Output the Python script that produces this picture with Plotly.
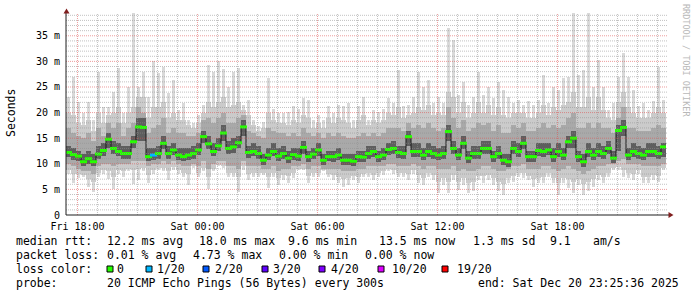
import plotly.graph_objects as go
import pandas as pd

# ---------------- data (ms), one value per 15-minute step ----------------
median = [12.2, 11.8, 11.5, 10.4, 11.0, 10.4, 11.9, 12.6, 14.8, 13.0, 12.4, 12.0, 12.0, 14.3, 17.2, 17.1, 11.4, 11.7, 12.0, 14.0, 12.0, 12.7, 11.7, 11.4,
          11.7, 12.0, 12.7, 15.3, 13.9, 12.4, 13.5, 16.0, 13.0, 13.3, 14.1, 17.2, 12.2, 12.4, 12.0, 10.7, 11.7, 12.4, 11.5, 12.0, 11.1, 11.8, 11.5, 13.2,
          11.4, 11.9, 12.7, 10.7, 11.4, 11.4, 11.7, 10.7, 10.7, 10.5, 11.4, 11.3, 12.0, 12.4, 11.4, 11.7, 12.8, 13.0, 12.2, 12.0, 15.3, 12.4, 12.4, 11.7,
          12.4, 12.0, 11.7, 12.0, 16.3, 13.0, 11.7, 14.0, 11.1, 12.0, 12.0, 13.0, 13.0, 11.4, 12.0, 10.7, 10.4, 13.0, 12.4, 14.0, 11.4, 11.4, 12.6, 12.4,
          12.7, 11.4, 12.4, 11.7, 14.3, 15.0, 11.4, 10.4, 12.4, 11.7, 12.4, 12.0, 13.0, 11.1, 16.5, 17.1, 11.7, 12.4, 12.0, 11.7, 12.4, 12.4, 12.0, 13.3]

# single-ping extremes (thin spikes)
rtt_max = [23, 27, 22, 20, 22, 18.5, 28, 21, 21, 24, 28.7, 20, 25, 45, 25, 28, 23, 30, 27.7, 29, 23.8, 26.4, 20.5, 21.8,
           18.5, 18, 19.5, 21.5, 29.3, 28, 30, 28.6, 25, 28, 28.7, 21.5, 22.5, 18.5, 17.3, 18.2, 26.7, 20.8, 19.9, 19.9, 20.2, 21.2, 20.8, 22.8,
           22.5, 18.5, 19.5, 18.5, 21.2, 20, 21.5, 21.2, 21.8, 18.5, 21.2, 23.1, 18.5, 20.5, 20.2, 20.8, 22.8, 21.8, 28.3, 21.2, 21.5, 23.1, 28, 25,
           26.4, 21.8, 23.1, 21.8, 36.5, 34.2, 23.4, 26, 21.5, 23.1, 28, 23.4, 25, 22.8, 26, 24.4, 23.1, 21.8, 22.5, 21.5, 22.2, 21.5, 22.5, 27.3,
           21.8, 25, 24.4, 26.7, 27, 42, 27.3, 28.3, 45, 25, 30.3, 25, 20.5, 21.8, 27, 31.6, 27, 24.4, 21.2, 21.8, 20.5, 22.2, 29, 22.5]

rtt_min = [8.0, 6.2, 7.2, 7.5, 5.5, 4.5, 7.5, 8.1, 7.0, 5.0, 8.0, 7.5, 8.5, 6.0, 6.8, 8.5, 6.2, 8.0, 8.8, 8.5, 6.8, 8.8, 8.0, 7.5,
           5.9, 9.1, 7.5, 8.5, 5.0, 8.5, 9.5, 9.1, 7.5, 7.5, 4.5, 8.8, 6.8, 7.5, 7.5, 7.8, 5.2, 7.5, 5.9, 6.8, 6.2, 7.2, 8.8, 8.8,
           6.2, 7.5, 7.5, 8.5, 7.5, 6.8, 6.2, 5.5, 5.9, 6.8, 6.2, 7.5, 7.5, 6.8, 7.5, 7.8, 8.5, 8.1, 7.5, 7.5, 6.8, 8.1, 6.2, 5.9,
           7.5, 6.8, 4.2, 5.9, 4.2, 6.8, 4.9, 5.9, 4.2, 4.6, 6.8, 6.2, 6.8, 5.9, 4.6, 4.0, 6.2, 6.5, 7.5, 7.2, 6.8, 5.5, 6.2, 6.2,
           7.5, 6.2, 3.9, 6.2, 5.2, 4.2, 5.9, 3.9, 4.6, 5.5, 6.8, 6.2, 7.5, 8.8, 8.8, 7.5, 7.2, 6.8, 8.1, 6.2, 6.2, 6.8, 6.5, 8.8]

# outer smoke envelope
outer_hi = [20, 19.5, 18, 17.5, 18.5, 16.5, 20, 18, 19.5, 20, 21, 18, 20, 21, 23, 23, 19, 21, 21, 22, 19, 20, 18.5, 18.5,
            17.5, 17, 18, 20, 22, 21, 22, 23, 21, 21.5, 22, 20.5, 19.5, 17.5, 16.5, 17, 20, 18.5, 18, 18, 17.5, 18.5, 18, 19.5,
            19, 17, 18, 17, 19, 18, 19, 18.5, 18, 17, 18.5, 19.5, 17.5, 18.5, 18, 18.5, 20, 19.5, 21, 19, 19.5, 20, 21, 20.5,
            21.5, 19.5, 20, 19.5, 24, 23, 20, 22, 19, 20, 22, 20, 21.5, 19.5, 21, 19.5, 19, 20, 20, 20, 19, 19, 20, 21.5,
            19.5, 21, 20.5, 21.5, 22, 24, 21, 21, 23, 20.5, 23, 20.5, 19, 18.5, 22, 24, 21, 20, 19, 19, 19, 20, 21, 20]

outer_lo = [8.8, 8.0, 8.0, 7.8, 7.0, 6.5, 8.3, 8.8, 8.5, 7.5, 8.8, 8.6, 9.0, 8.8, 9.0, 9.2, 7.8, 8.8, 9.2, 9.2, 8.5, 9.4, 8.8, 8.3,
            8.0, 9.5, 8.3, 9.2, 7.5, 9.0, 9.8, 9.6, 8.3, 8.3, 7.5, 9.5, 8.0, 8.3, 8.3, 8.2, 7.5, 8.3, 7.3, 7.8, 7.6, 8.2, 9.0, 9.0,
            7.6, 8.3, 8.3, 8.7, 8.0, 7.8, 7.5, 7.0, 7.2, 7.6, 7.5, 8.0, 8.3, 7.8, 8.3, 8.5, 9.0, 8.8, 8.3, 8.3, 8.0, 8.8, 7.8, 7.3,
            8.3, 7.8, 6.5, 7.2, 6.5, 7.8, 6.5, 7.3, 6.3, 6.5, 7.6, 7.6, 7.8, 7.2, 6.5, 6.0, 7.3, 7.6, 8.3, 8.3, 7.6, 7.0, 7.3, 7.5,
            8.3, 7.3, 6.2, 7.3, 7.0, 6.5, 7.0, 6.0, 6.5, 7.0, 7.8, 7.5, 8.3, 9.2, 9.4, 8.8, 8.3, 8.0, 8.8, 7.5, 7.5, 7.8, 7.6, 9.2]

mid_hi = [17, 16, 15.5, 15, 16, 14.5, 17, 15.5, 18, 17, 18, 15.5, 17, 18, 21, 20, 16, 17, 17.5, 19, 16, 17, 16, 16,
          15.5, 15.5, 16, 18.5, 19, 18, 19, 20, 18, 18, 19, 19.5, 16.5, 16, 15.5, 15, 17, 16.5, 16, 16, 15.5, 16, 15.5, 17,
          16, 15.5, 16, 15, 16, 15.5, 16, 15.5, 15, 15, 15.5, 16, 15.5, 16, 15.5, 16, 17, 17, 17, 16.5, 18, 17, 17.5, 17,
          18, 17, 16.5, 17, 21, 19, 17, 18.5, 16.5, 17, 18, 17.5, 18, 16.5, 17.5, 16, 16, 17.5, 17, 18, 16.5, 16.5, 17, 18,
          17, 17.5, 17, 17.5, 19, 20, 17, 17, 18, 17, 18, 17, 17, 16, 19, 21, 17, 17, 16.5, 16.5, 16.5, 17, 17.5, 17]

mid_lo = [10, 9.5, 9, 8.5, 8.5, 8, 9.5, 10, 10, 9.5, 10, 10, 10, 10.5, 10.5, 10.5, 9.5, 10, 10, 10.5, 10, 10.5, 10, 9.5,
          9.5, 10, 9.5, 10.5, 9, 10, 10.5, 10.5, 9.5, 9.5, 9, 10.5, 9.5, 9.5, 9.5, 9, 9, 9.5, 8.5, 9, 9, 9.5, 9.5, 10,
          9, 9.5, 9.5, 9, 9, 9, 9, 8.5, 8.5, 8.5, 9, 9, 9.5, 9.5, 9.5, 9.5, 10, 10, 9.5, 9.5, 9.5, 10, 9.5, 9,
          9.5, 9.5, 9, 9, 9, 9.5, 8.5, 9, 8.5, 8.5, 9, 9.5, 9.5, 9, 8.5, 8.5, 9, 9.5, 9.5, 10, 9, 9, 9, 9.5,
          9.5, 9, 8.5, 9, 9.5, 9, 8.5, 8, 8.5, 9, 9.5, 9.5, 10, 10, 10.5, 11, 10, 10, 10, 9.5, 9.5, 9.5, 9.5, 10]

core_hi = [13.5, 13, 12.5, 12, 12.5, 12, 13.5, 14, 16, 14.5, 14, 13.5, 13.5, 15.5, 19, 19, 13, 13, 13.5, 15.5, 13.5, 14, 13, 13,
           13, 13.5, 14, 16.5, 15.5, 14, 15, 17.5, 14.5, 15, 15.5, 18.5, 13.5, 14, 13.5, 12, 13, 14, 13, 13.5, 12.5, 13, 13, 14.5,
           12.5, 13, 14, 12, 12.5, 12.5, 13, 12, 12, 12, 12.5, 12.5, 13.5, 13.5, 12.5, 13, 14, 14.5, 13.5, 13.5, 16.5, 14, 14, 13,
           14, 13.5, 13, 13.5, 17.5, 14.5, 13, 15.5, 12.5, 13.5, 13.5, 14.5, 14.5, 12.5, 13.5, 12, 12, 14.5, 14, 15.5, 12.5, 12.5, 14, 14,
           14, 13, 14, 13, 15.5, 16.5, 12.5, 12, 14, 13, 14, 13.5, 14.5, 12.5, 17.5, 18.5, 13, 14, 13.5, 13, 14, 14, 13.5, 14]

core_lo = [11.3, 10.8, 10.5, 9.5, 10, 9.5, 11, 11.5, 13, 12, 11.5, 11, 11, 13, 14.5, 14.5, 10.5, 10.8, 11, 12.8, 11, 11.8, 10.8, 10.5,
           10.8, 11, 11.7, 14, 12.8, 11.5, 12.5, 14.5, 12, 12.2, 13, 15.5, 11.2, 11.5, 11, 9.8, 10.8, 11.5, 10.5, 11, 10.2, 10.8, 10.5, 12,
           10.4, 10.9, 11.6, 9.8, 10.5, 10.4, 10.7, 9.7, 9.7, 9.5, 10.4, 10.3, 11, 11.4, 10.4, 10.7, 11.8, 12, 11.2, 11, 13.5, 11.4, 11.4, 10.7,
           11.4, 11, 10.7, 11, 14.5, 12, 10.7, 12.8, 10.1, 11, 11, 12, 12, 10.4, 11, 9.7, 9.4, 12, 11.4, 12.8, 10.4, 10.4, 11.6, 11.4,
           11.7, 10.4, 11.4, 10.7, 13, 13, 10.4, 9.4, 11.4, 10.7, 11.4, 11, 12, 10.1, 12.5, 15.5, 10.7, 11.4, 11, 10.7, 11.4, 11.4, 11, 11.4]

# lost pings out of 20 per step
loss = [0, 0, 0, 0, 0, 0, 0, 0, 0, 0, 0, 0, 0, 0, 0, 0, 0, 1, 0, 0, 0, 0, 0, 0,
        0, 0, 0, 0, 0, 0, 0, 0, 0, 0, 0, 0, 0, 0, 0, 0, 0, 0, 0, 0, 0, 0, 0, 0,
        0, 0, 0, 0, 0, 0, 0, 0, 0, 0, 0, 0, 0, 0, 0, 0, 0, 0, 0, 0, 0, 0, 0, 0,
        0, 0, 0, 0, 0, 0, 0, 0, 0, 0, 0, 0, 0, 0, 0, 0, 0, 0, 0, 0, 0, 0, 0, 0,
        0, 0, 0, 0, 0, 0, 0, 0, 0, 0, 0, 0, 0, 0, 0, 0, 0, 0, 0, 0, 0, 0, 0, 0]

y_tick_vals = [0, 5, 10, 15, 20, 25, 30, 35]
y_tick_text = ["0", "5 m", "10 m", "15 m", "20 m", "25 m", "30 m", "35 m"]

loss_levels = ["0", "1/20", "2/20", "3/20", "4/20", "10/20", "19/20"]
loss_colors = ["#26ff00", "#00b8ff", "#0059ff", "#5e00ff", "#7e00ff", "#dd00ff", "#ff0000"]
loss_color_of = {0: "#26ff00", 1: "#00b8ff", 2: "#0059ff", 3: "#5e00ff", 4: "#7e00ff", 10: "#dd00ff", 19: "#ff0000"}

legend_rtt = ["median rtt:", "12.2 ms avg", "18.0 ms max", "9.6 ms min", "13.5 ms now", "1.3 ms sd", "9.1", "am/s"]
legend_loss = ["packet loss:", "0.01 % avg", "4.73 % max", "0.00 % min", "0.00 % now"]
legend_probe = ["probe:", "20 ICMP Echo Pings (56 Bytes) every 300s", "end: Sat Dec 20 23:25:36 2025"]

# ---------------- geometry ----------------
W, H = 697, 297
PX0, PX1 = 66, 666      # plot area x in pixels
PY0, PY1 = 13, 215      # plot area y in pixels (top, bottom)
PW, PH = PX1 - PX0, PY1 - PY0
YMAX = 39.45

def px(x):
    return (x - PX0) / PW

def py(y):
    return (PY1 - y) / PH

start = pd.Timestamp("2025-12-19 17:25:36")
end = start + pd.Timedelta(hours=30)
step = pd.Timedelta(minutes=15)
t = [start + step * (i + 0.5) for i in range(len(median))]
wms = step.total_seconds() * 1000

MONO = "DejaVu Sans Mono"

fig = go.Figure()

def band(lo, hi, color, frac=1.0):
    fig.add_trace(go.Bar(
        x=t, base=lo, y=[h - l for l, h in zip(lo, hi)], width=[wms * frac] * len(lo),
        marker=dict(color=color, line=dict(width=0)), hoverinfo="skip", showlegend=False))

band(rtt_min, rtt_max, "#d9d9d9", frac=0.45)
band(outer_lo, outer_hi, "#cbcbcb")
band(mid_lo, mid_hi, "#a9a9a9")
band(core_lo, core_hi, "#5e5e5e")

fig.add_trace(go.Scatter(
    x=t, y=median, mode="lines", line=dict(color="#1a1a1a", width=1, shape="hvh"),
    hoverinfo="skip", showlegend=False))
fig.add_trace(go.Scatter(
    x=t, y=median, mode="markers",
    marker=dict(symbol="line-ew", size=5, color=[loss_color_of[l] for l in loss],
                line=dict(width=3, color=[loss_color_of[l] for l in loss])),
    hoverinfo="skip", showlegend=False))

shapes = []
GRID = "rgba(143,143,143,0.55)"
MGRID = "rgba(222,79,79,0.55)"
for v in range(1, 40):
    shapes.append(dict(type="line", xref="paper", yref="y", x0=0, x1=px(668), y0=v, y1=v,
                       line=dict(color=MGRID if v % 5 == 0 else GRID, width=1, dash="1px,1px"),
                       layer="above"))
hr = pd.Timestamp("2025-12-19 18:00")
while hr < end:
    shapes.append(dict(type="line", xref="x", yref="paper", x0=hr, x1=hr, y0=0, y1=1,
                       line=dict(color=MGRID if hr.hour % 6 == 0 else GRID, width=1, dash="1px,1px"),
                       layer="above"))
    hr += pd.Timedelta(hours=1)

AXIS = "#1f1f1f"
ARROW = "#801f1f"
shapes.append(dict(type="line", xref="paper", yref="paper", x0=0, x1=px(669), y0=0, y1=0,
                   line=dict(color=AXIS, width=1), layer="above"))
shapes.append(dict(type="line", xref="paper", yref="paper", x0=0, x1=0, y0=0, y1=py(12),
                   line=dict(color=AXIS, width=1), layer="above"))
shapes.append(dict(type="path", xref="paper", yref="paper",
                   path=f"M {px(63.5)} {py(13.5)} L {px(69.5)} {py(13.5)} L {px(66.5)} {py(8.5)} Z",
                   fillcolor=ARROW, line=dict(width=0), layer="above"))
shapes.append(dict(type="path", xref="paper", yref="paper",
                   path=f"M {px(668.5)} {py(212)} L {px(668.5)} {py(218)} L {px(673.5)} {py(215)} Z",
                   fillcolor=ARROW, line=dict(width=0), layer="above"))

ann = []

def txt(x, y, s, size=11.5, color="#000000", angle=0, xanchor="left"):
    ann.append(dict(x=px(x), y=py(y), xref="paper", yref="paper", text=s, showarrow=False,
                    xanchor=xanchor, yanchor="middle", textangle=angle, borderpad=0, borderwidth=0,
                    font=dict(family=MONO, size=size, color=color)))

rtt_x = [16, 107, 199, 288, 379, 473, 550, 593]
for x, s in zip(rtt_x, legend_rtt):
    txt(x, 241, s)
loss_x = [16, 107, 193, 279, 365]
for x, s in zip(loss_x, legend_loss):
    txt(x, 255, s)
txt(16, 269, "loss color:")
box_x = [107, 146, 203, 262, 319, 378, 442]
lab_x = [117, 157, 215, 273, 331, 392, 457]
for bx, lx, s, c in zip(box_x, lab_x, loss_levels, loss_colors):
    shapes.append(dict(type="rect", xref="paper", yref="paper",
                       x0=px(bx), x1=px(bx + 6), y0=py(272), y1=py(266),
                       fillcolor=c, line=dict(color="#000000", width=1)))
    txt(lx, 269, s)
probe_x = [16, 107, 478]
for x, s in zip(probe_x, legend_probe):
    txt(x, 283, s)

txt(11, 113, "Seconds", size=11.5, angle=-90, xanchor="center")
txt(686, 60, "RRDTOOL / TOBI OETIKER", size=8.5, color="#b8b8b8", angle=90, xanchor="center")

fig.update_layout(
    width=W, height=H, autosize=False,
    margin=dict(l=PX0, r=W - PX1, t=PY0, b=H - PY1, pad=0),
    paper_bgcolor="white", plot_bgcolor="white",
    barmode="overlay", bargap=0, showlegend=False,
    shapes=shapes, annotations=ann,
    xaxis=dict(type="date", range=[start, end], showgrid=False, zeroline=False, showline=False,
               tick0="2025-12-19 18:00", dtick=6 * 3600 * 1000, tickformat="%a %H:%M",
               ticks="", ticklabelstandoff=4,
               tickfont=dict(family=MONO, size=10, color="#000000"), fixedrange=True),
    yaxis=dict(range=[0, YMAX], showgrid=False, zeroline=False, showline=False,
               tickvals=y_tick_vals, ticktext=y_tick_text, ticks="", ticklabelstandoff=5,
               tickfont=dict(family=MONO, size=10, color="#000000"), fixedrange=True),
)

fig.write_html("out.html")
